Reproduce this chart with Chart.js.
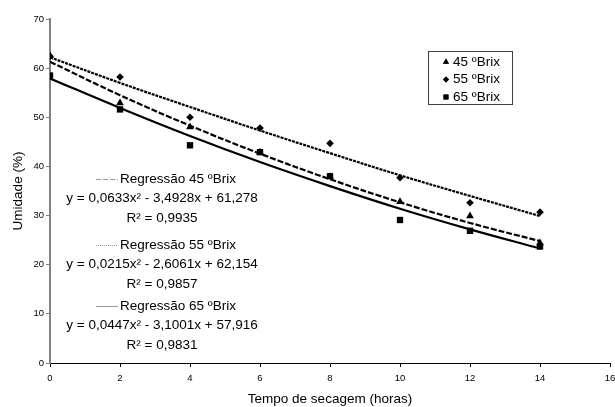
<!DOCTYPE html>
<html lang="pt">
<head>
<meta charset="UTF-8">
<script src="https://cdn.jsdelivr.net/npm/chart.js"></script>
<title>Umidade x Tempo de secagem</title>
<style>
  body { margin: 0; background: #fff; }
</style>
</head>
<body>
<canvas id="myChart" width="615" height="407"></canvas>
<script>
const horas = [0, 2, 4, 6, 8, 10, 12, 14];
const brix45 = [62.5, 52.9, 48.0, 42.9, 37.9, 32.8, 29.9, 24.4];
const brix55 = [62.4, 58.2, 50.0, 47.8, 44.7, 37.7, 32.6, 30.7];
const brix65 = [58.5, 51.6, 44.3, 42.9, 38.0, 29.1, 26.9, 23.7];
// linhas de tendência
const reg45 = [61.3, 54.5, 48.3, 42.6, 37.4, 32.7, 28.5, 24.8];
const reg55 = [62.2, 57.0, 52.1, 47.3, 42.7, 38.2, 34.0, 29.9];
const reg65 = [57.9, 51.9, 46.2, 40.9, 36.0, 31.4, 27.2, 23.3];
const nomes = ['45 ºBrix', '55 ºBrix', '65 ºBrix'];
const regTextos = [
  ['Regressão 45 ºBrix', 'y = 0,0633x² - 3,4928x + 61,278', 'R² = 0,9935'],
  ['Regressão 55 ºBrix', 'y = 0,0215x² - 2,6061x + 62,154', 'R² = 0,9857'],
  ['Regressão 65 ºBrix', 'y = 0,0447x² - 3,1001x + 57,916', 'R² = 0,9831']
];

const pts = (ys) => horas.map((x, i) => ({x: x, y: ys[i]}));
const FONT = 'Arial, "Liberation Sans", sans-serif';

function pointSet(label, ys, style, r) {
  return {
    label: label, data: pts(ys), showLine: false,
    pointStyle: style, pointRadius: r, pointHoverRadius: r,
    backgroundColor: '#000', borderColor: '#000', borderWidth: 0
  };
}
function lineSet(label, ys, dash) {
  return {
    label: label, data: pts(ys), showLine: true, pointRadius: 0,
    borderColor: '#000', borderWidth: 2.2, borderDash: dash, tension: 0.4,
    fill: false
  };
}

// legenda e textos das regressões
const extras = {
  id: 'extras',
  afterDraw(chart) {
    const c = chart.ctx;
    c.save();
    // caixa da legenda
    c.strokeStyle = '#404040';
    c.lineWidth = 1;
    c.strokeRect(428.5, 51.5, 84, 53);
    c.font = '13.5px ' + FONT;
    c.fillStyle = '#000';
    c.textBaseline = 'middle';
    const estilos = ['triangle', 'rectRot', 'rect'];
    const raios = [3.5, 3, 3.5];
    nomes.forEach((n, i) => {
      const y = 62 + i * 17.5;
      Chart.helpers.drawPoint(c, {pointStyle: estilos[i], radius: raios[i], borderWidth: 0}, 446, y);
      c.fill();
      c.fillText(n, 453, y);
    });
    // textos das regressões
    const base = [179, 245, 306];
    const dashes = [[5, 2], [1, 1], []];
    c.textAlign = 'center';
    regTextos.forEach((t, i) => {
      const y0 = base[i];
      c.fillText(t[0], 178, y0);
      c.fillText(t[1], 162, y0 + 19);
      c.fillText(t[2], 162, y0 + 39);
      const w = c.measureText(t[0]).width;
      c.beginPath();
      c.setLineDash(dashes[i]);
      c.strokeStyle = '#999';
      c.lineWidth = 1;
      c.moveTo(178 - w / 2 - 24, y0 + 0.5);
      c.lineTo(178 - w / 2 - 2, y0 + 0.5);
      c.stroke();
      c.setLineDash([]);
    });
    c.restore();
  }
};

new Chart(document.getElementById('myChart'), {
  type: 'scatter',
  data: {
    datasets: [
      lineSet('Regressão 45 ºBrix', reg45, [6, 2]),
      lineSet('Regressão 55 ºBrix', reg55, [3, 1]),
      lineSet('Regressão 65 ºBrix', reg65, []),
      pointSet(nomes[0], brix45, 'triangle', 4.5),
      pointSet(nomes[1], brix55, 'rectRot', 3.8),
      pointSet(nomes[2], brix65, 'rect', 4.5)
    ]
  },
  options: {
    responsive: false,
    devicePixelRatio: 1,
    animation: false,
    layout: { padding: { top: 19, right: 5, left: 0, bottom: 0 } },
    plugins: { legend: { display: false }, tooltip: { enabled: false } },
    scales: {
      x: {
        type: 'linear', min: 0, max: 16,
        afterFit(s) { s.height = 44; s.paddingLeft = 0; s.paddingRight = 0; },
        ticks: { stepSize: 2, color: '#000', font: { size: 9.5, family: FONT }, padding: 6, maxRotation: 0 },
        grid: { drawOnChartArea: false, drawTicks: true, tickLength: 4, color: '#000' },
        border: { color: '#000', width: 1 },
        title: { display: true, text: 'Tempo de secagem (horas)', color: '#000',
                 font: { size: 13.5, family: FONT }, padding: { top: 0, bottom: 0 } }
      },
      y: {
        min: 0, max: 70,
        afterFit(s) { s.width = 50; s.paddingTop = 0; s.paddingBottom = 0; },
        ticks: { stepSize: 10, color: '#000', font: { size: 9.5, family: FONT }, padding: 2 },
        grid: { drawOnChartArea: false, drawTicks: true, tickLength: 4, color: '#808080' },
        border: { color: '#808080', width: 2 },
        title: { display: true, text: 'Umidade (%)', color: '#000',
                 font: { size: 13.5, family: FONT }, padding: { top: 10, bottom: 0 } }
      }
    }
  },
  plugins: [extras]
});
</script>
</body>
</html>
